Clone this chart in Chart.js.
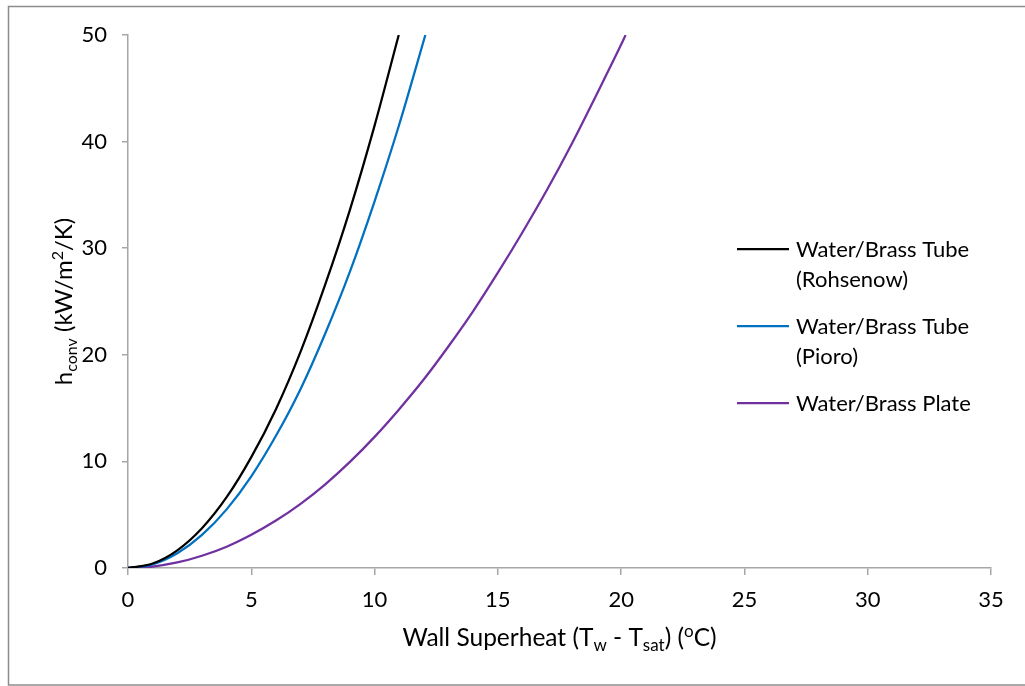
<!DOCTYPE html>
<html>
<head>
<meta charset="utf-8">
<script src="https://cdn.jsdelivr.net/npm/chart.js@4/dist/chart.umd.min.js"></script>
<style>
    body { margin: 0; background: #fff; }
    #wrap { position: absolute; left: 0; top: 0; width: 1025px; height: 686px; }
</style>
</head>
<body>
<div id="wrap"><canvas id="myChart"></canvas></div>
<script>
// data: wall superheat (oC) vs h_conv (kW/m2/K)
var tRohsenow = [0, 1, 2, 3, 4, 5, 6, 7, 8, 9, 10, 10.98];
var hRohsenow = [0, 0.42, 1.66, 3.73, 6.64, 10.4, 14.9, 20.3, 26.6, 33.6, 41.5, 50];

var tPioro = [0, 1, 2, 3, 4, 5, 6, 7, 8, 9, 10, 11, 12.06];
var hPioro = [0, 0.34, 1.38, 3.1, 5.5, 8.6, 12.4, 16.8, 22.0, 27.8, 34.4, 41.6, 50];

var tPlate = [0, 1, 2, 3, 4, 5, 6, 7, 8, 9, 10, 11, 12, 13, 14, 15, 16, 17, 18, 19, 20, 20.18];
var hPlate = [0, 0.14, 0.52, 1.15, 2.0, 3.12, 4.45, 6.02, 7.85, 9.95, 12.3, 14.9, 17.7, 20.8, 24.1, 27.7, 31.5, 35.5, 39.8, 44.4, 49.1, 50];

var seriesLabels = [
    ["Water/Brass Tube", "(Rohsenow)"],
    ["Water/Brass Tube", "(Pioro)"],
    ["Water/Brass Plate"]
];
var seriesColors = ["#000000", "#0070C0", "#7030A0"];

var xTicks = [0, 5, 10, 15, 20, 25, 30, 35];
var yTicks = [0, 10, 20, 30, 40, 50];

function toPoints(xs, ys) {
    var pts = [];
    for (var i = 0; i < xs.length; i++) {
        pts.push({ x: xs[i], y: ys[i] });
    }
    return pts;
}

var FONT = "Lato, 'Open Sans', sans-serif";
var AXIS_GREY = "#A6A6A6";

// draws text made of normal / sub / sup pieces, centred on (0,0)
function drawRich(ctx, parts, size) {
    var small = Math.round(size * 0.68);
    var total = 0;
    var widths = [];
    for (var i = 0; i < parts.length; i++) {
        ctx.font = (parts[i][1] == "n" ? size : small) + "px " + FONT;
        var w = ctx.measureText(parts[i][0]).width;
        widths.push(w);
        total += w;
    }
    var x = -total / 2;
    for (var j = 0; j < parts.length; j++) {
        var mode = parts[j][1];
        ctx.font = (mode == "n" ? size : small) + "px " + FONT;
        var dy = 0;
        if (mode == "sub") dy = size * 0.22;
        if (mode == "sup") dy = -size * 0.38;
        ctx.fillText(parts[j][0], x, dy);
        x += widths[j];
    }
}

var extrasPlugin = {
    id: "extras",
    beforeDraw: function (chart) {
        var ctx = chart.ctx;
        ctx.save();
        ctx.fillStyle = "#fff";
        ctx.fillRect(0, 0, chart.width, chart.height);
        ctx.strokeStyle = "#8C8C8C";
        ctx.lineWidth = 1.5;
        ctx.strokeRect(8.5, 6.5, 1030, 678.5);
        ctx.restore();
    },
    afterDraw: function (chart) {
        var ctx = chart.ctx;
        var area = chart.chartArea;
        ctx.save();
        ctx.fillStyle = "#000";
        ctx.textBaseline = "alphabetic";
        ctx.textAlign = "left";

        // x axis title
        ctx.save();
        ctx.translate((area.left + area.right) / 2, 646);
        drawRich(ctx, [["Wall Superheat (T", "n"], ["w", "sub"], [" - T", "n"], ["sat", "sub"],
            [") (", "n"], ["o", "sup"], ["C)", "n"]], 24.5);
        ctx.restore();

        // y axis title
        ctx.save();
        ctx.translate(72, (area.top + area.bottom) / 2);
        ctx.rotate(-Math.PI / 2);
        drawRich(ctx, [["h", "n"], ["conv", "sub"], [" (kW/m", "n"], ["2", "sup"], ["/K)", "n"]], 24);
        ctx.restore();

        // legend
        var rowY = [249, 326, 403];
        for (var i = 0; i < chart.data.datasets.length; i++) {
            var ds = chart.data.datasets[i];
            ctx.strokeStyle = ds.borderColor;
            ctx.lineWidth = 2.25;
            ctx.beginPath();
            ctx.moveTo(737, rowY[i]);
            ctx.lineTo(789, rowY[i]);
            ctx.stroke();
            ctx.font = "22px " + FONT;
            ctx.fillStyle = "#000";
            for (var k = 0; k < seriesLabels[i].length; k++) {
                ctx.fillText(seriesLabels[i][k], 796, rowY[i] + 8 + k * 30);
            }
        }
        ctx.restore();
    }
};

var ctx1 = document.getElementById("myChart");
var myChart = new Chart(ctx1, {
    type: "line",
    data: {
        datasets: [
            { label: seriesLabels[0].join(" "), data: toPoints(tRohsenow, hRohsenow), borderColor: seriesColors[0] },
            { label: seriesLabels[1].join(" "), data: toPoints(tPioro, hPioro), borderColor: seriesColors[1] },
            { label: seriesLabels[2].join(" "), data: toPoints(tPlate, hPlate), borderColor: seriesColors[2] }
        ]
    },
    options: {
        responsive: true,
        maintainAspectRatio: false,
        animation: false,
        layout: { padding: { left: 0, top: 35, right: 34, bottom: 0 } },
        elements: {
            line: { borderWidth: 2.25, cubicInterpolationMode: "monotone", fill: false },
            point: { radius: 0 }
        },
        plugins: {
            legend: { display: false },
            tooltip: { enabled: false }
        },
        scales: {
            x: {
                type: "linear",
                min: 0,
                max: 35,
                afterBuildTicks: function (scale) {
                    scale.ticks = xTicks.map(function (v) { return { value: v }; });
                },
                afterFit: function (scale) { scale.height = 118; },
                grid: { drawOnChartArea: false, drawTicks: true, tickLength: 7, color: AXIS_GREY, lineWidth: 1.5 },
                border: { color: AXIS_GREY, width: 1.5 },
                ticks: { color: "#000", padding: 12, maxRotation: 0, font: { family: FONT, size: 22 } }
            },
            y: {
                type: "linear",
                min: 0,
                max: 50,
                afterBuildTicks: function (scale) {
                    scale.ticks = yTicks.map(function (v) { return { value: v }; });
                },
                afterFit: function (scale) { scale.width = 128; },
                grid: { drawOnChartArea: false, drawTicks: true, tickLength: 6, color: AXIS_GREY, lineWidth: 1.5 },
                border: { color: AXIS_GREY, width: 1.5 },
                ticks: { color: "#000", padding: 15, font: { family: FONT, size: 22 } }
            }
        }
    },
    plugins: [extrasPlugin]
});
</script>
</body>
</html>
